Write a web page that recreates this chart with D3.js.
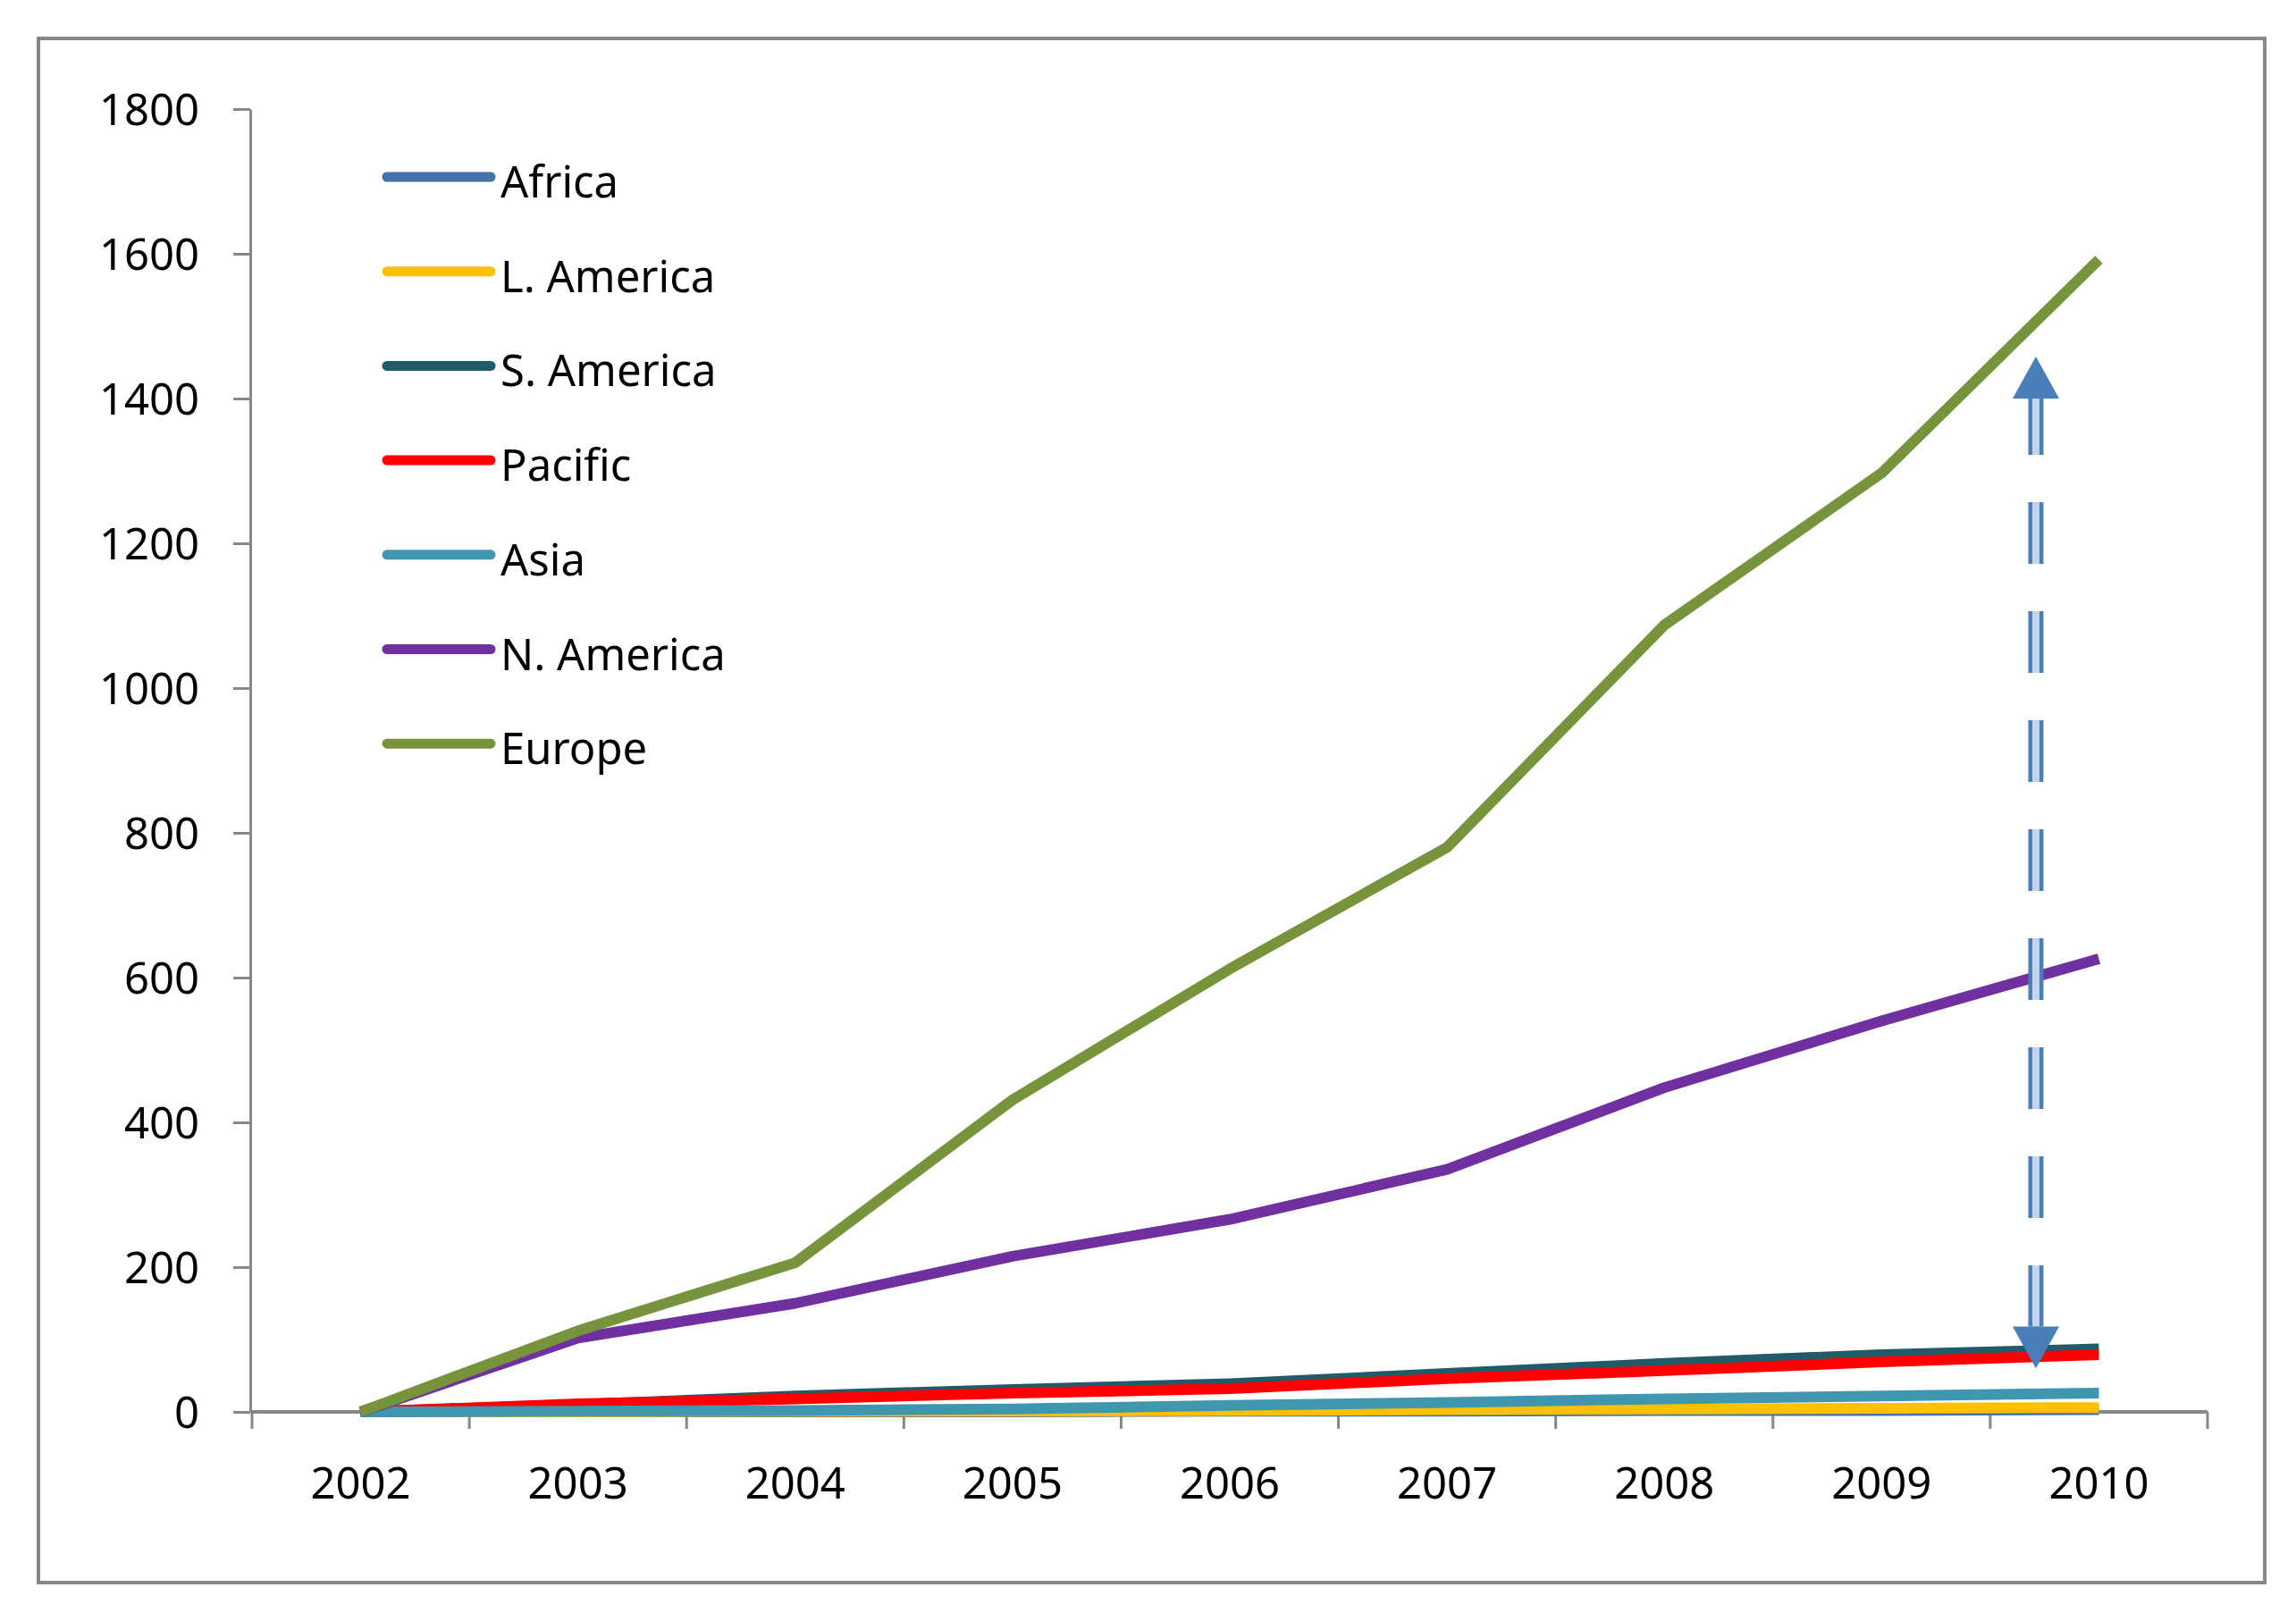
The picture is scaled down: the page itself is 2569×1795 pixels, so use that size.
<!DOCTYPE html>
<html>
<head>
<meta charset="utf-8">
<script src="https://cdn.jsdelivr.net/npm/d3@7"></script>
<style>
  body { margin: 0; background: #ffffff; }
  text { font-family: "Noto Sans", "Open Sans", sans-serif; fill: #000000; }
</style>
</head>
<body>
<svg id="chart"></svg>
<script>
var width = 2569;
var height = 1795;

// Data
var years = ["2002", "2003", "2004", "2005", "2006", "2007", "2008", "2009", "2010"];
var seriesNames = ["Africa", "L. America", "S. America", "Pacific", "Asia", "N. America", "Europe"];
var seriesColors = ["#4672AA", "#FFC000", "#215A69", "#FF0000", "#3F96AF", "#7030A0", "#77933C"];

var africa   = [0, 0, 0, 0, 1, 1, 2, 2, 3];
var lAmerica = [0, 0, 1, 1, 2, 3, 4, 5, 6];
var sAmerica = [0, 10, 22, 31, 39, 53, 67, 79, 87];
var pacific  = [0, 11, 18, 26, 32, 46, 57, 69, 79];
var asia     = [0, 1, 2, 4, 9, 13, 18, 22, 26];
var nAmerica = [0, 102, 150, 215, 266, 335, 448, 540, 626];
var europe   = [0, 112, 206, 431, 612, 780, 1087, 1297, 1592];

var yTicks = [0, 200, 400, 600, 800, 1000, 1200, 1400, 1600, 1800];

// double headed dashed arrow between the two groups, placed in data units
var arrowYearFrom = "2009", arrowYearTo = "2010", arrowFrac = 0.71;
var arrowLow = 60, arrowHigh = 1458;

var seriesValues = [africa, lAmerica, sAmerica, pacific, asia, nAmerica, europe];

var svg = d3.select("#chart")
  .attr("width", width)
  .attr("height", height);

svg.append("rect")
  .attr("x", 0).attr("y", 0)
  .attr("width", width).attr("height", height)
  .attr("fill", "#ffffff");

// outer chart frame
svg.append("rect")
  .attr("x", 43).attr("y", 43)
  .attr("width", 2491).attr("height", 1728)
  .attr("fill", "none")
  .attr("stroke", "#878787")
  .attr("stroke-width", 4);

var x = d3.scaleBand()
  .domain(years)
  .range([282, 2470])
  .padding(0);

var y = d3.scaleLinear()
  .domain([0, 1800])
  .range([1580, 122]);

var xc = function(yr) { return x(yr) + x.bandwidth() / 2; };

// y axis
var yAxis = svg.append("g")
  .attr("transform", "translate(280,0)")
  .call(d3.axisLeft(y).tickValues(yTicks).tickFormat(d3.format("d"))
    .tickSize(19).tickSizeOuter(0).tickPadding(38));
yAxis.select(".domain").attr("stroke", "#878787").attr("stroke-width", 3);
yAxis.selectAll(".tick line").attr("stroke", "#878787").attr("stroke-width", 3);
yAxis.selectAll(".tick text")
  .style("font-size", "49px")
  .attr("dy", "0.36em");

// x axis, ticks between categories like the original
var xAxis = svg.append("g")
  .attr("transform", "translate(0," + y(0) + ")");
xAxis.append("line")
  .attr("x1", x.range()[0]).attr("x2", x.range()[1])
  .attr("y1", 0).attr("y2", 0)
  .attr("stroke", "#878787")
  .attr("stroke-width", 4);
xAxis.selectAll(".xtick")
  .data(years.concat(["end"]))
  .enter()
  .append("line")
  .attr("class", "xtick")
  .attr("x1", function(d, i) { return i < years.length ? x(d) : x.range()[1]; })
  .attr("x2", function(d, i) { return i < years.length ? x(d) : x.range()[1]; })
  .attr("y1", 0).attr("y2", 19)
  .attr("stroke", "#878787")
  .attr("stroke-width", 3);
xAxis.selectAll(".xlabel")
  .data(years)
  .enter()
  .append("text")
  .attr("class", "xlabel")
  .attr("x", function(d) { return xc(d); })
  .attr("y", 97)
  .attr("text-anchor", "middle")
  .style("font-size", "49px")
  .text(function(d) { return d; });

// series lines, first legend entry drawn first
var line = d3.line()
  .x(function(d, i) { return xc(years[i]); })
  .y(function(d) { return y(d); });

svg.append("g")
  .selectAll(".series")
  .data(seriesValues)
  .enter()
  .append("path")
  .attr("class", "series")
  .attr("d", function(d) { return line(d); })
  .attr("fill", "none")
  .attr("stroke", function(d, i) { return seriesColors[i]; })
  .attr("stroke-width", 12)
  .attr("stroke-linejoin", "round")
  .attr("stroke-linecap", "butt");

// legend
var legend = svg.append("g")
  .selectAll(".legend")
  .data(seriesNames)
  .enter()
  .append("g")
  .attr("class", "legend")
  .attr("transform", function(d, i) { return "translate(0," + (198 + i * 105.7) + ")"; });

legend.append("line")
  .attr("x1", 433).attr("x2", 549)
  .attr("y1", 0).attr("y2", 0)
  .attr("stroke", function(d, i) { return seriesColors[i]; })
  .attr("stroke-width", 11)
  .attr("stroke-linecap", "round");

legend.append("text")
  .attr("x", 560)
  .attr("y", 23)
  .style("font-size", "49px")
  .text(function(d) { return d; });

// the dashed double arrow
var ax = xc(arrowYearFrom) + (xc(arrowYearTo) - xc(arrowYearFrom)) * arrowFrac;
var yTop = y(arrowHigh), yBot = y(arrowLow);
var headH = 47, headW = 26;
var arrow = svg.append("g");

arrow.append("line")
  .attr("x1", ax).attr("x2", ax)
  .attr("y1", yTop + headH).attr("y2", yBot - headH)
  .attr("stroke", "#4A7EBB")
  .attr("stroke-width", 17)
  .attr("stroke-dasharray", "69 53")
  .attr("stroke-dashoffset", 6);
arrow.append("line")
  .attr("x1", ax).attr("x2", ax)
  .attr("y1", yTop + headH).attr("y2", yBot - headH)
  .attr("stroke", "#C3D3EA")
  .attr("stroke-width", 8)
  .attr("stroke-dasharray", "69 53")
  .attr("stroke-dashoffset", 6);

arrow.append("path")
  .attr("d", "M" + ax + "," + yTop + "L" + (ax + headW) + "," + (yTop + headH) + "L" + (ax - headW) + "," + (yTop + headH) + "Z")
  .attr("fill", "#4A7EBB");
arrow.append("path")
  .attr("d", "M" + ax + "," + yBot + "L" + (ax + headW) + "," + (yBot - headH) + "L" + (ax - headW) + "," + (yBot - headH) + "Z")
  .attr("fill", "#4A7EBB");
</script>
</body>
</html>
